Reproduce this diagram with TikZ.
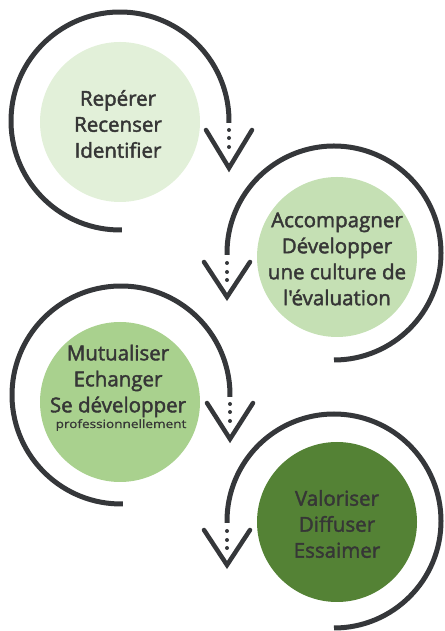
\documentclass[tikz,border=0pt]{standalone}
\usepackage{fontspec}
\setmainfont{Open Sans}[Ligatures=TeXOff, FakeBold=2]
\newfontfamily\smallfam{Open Sans}[Ligatures=TeXOff, FakeBold=0.8]
\usetikzlibrary{calc}
\definecolor{ringgray}{HTML}{35373A}
\definecolor{txtgray}{HTML}{363636}
\definecolor{gA}{HTML}{E2F0D9}
\definecolor{gB}{HTML}{C5E0B4}
\definecolor{gC}{HTML}{A9D18E}
\definecolor{gD}{HTML}{548235}
\tikzset{
  ring/.style={draw=ringgray, line width=5pt},
  chev/.style={draw=ringgray, line width=4.5pt, line cap=round, line join=miter},
  dotmark/.style={circle, fill=ringgray, inner sep=0pt, minimum size=4pt},
  bubble/.style={circle, inner sep=0pt, minimum size=160pt},
  txt/.style={align=center, text=txtgray, inner sep=0pt, font=\fontsize{20.5}{26}\selectfont},
  smalltxt/.style={text=txtgray, inner sep=0pt, font=\smallfam\fontsize{11.5}{13}\selectfont}
}
\begin{document}
\begin{tikzpicture}[x=1pt,y=1pt]
\useasboundingbox (0,0) rectangle (444,631);
% circles
\node[bubble, fill=gA] (b1) at (120,509) {};
\node[bubble, fill=gB] (b2) at (337,374) {};
\node[bubble, fill=gC] (b3) at (120,229) {};
\node[bubble, fill=gD] (b4) at (337,109) {};
% ring centres
\coordinate (r1) at (120,510);
\coordinate (r2) at (334,378);
\coordinate (r3) at (121,236);
\coordinate (r4) at (334,110);
% rings
\draw[ring] (r1) ++(271:109) arc[start angle=271, end angle=-1, radius=109];
\draw[ring] (r2) ++(270:107) arc[start angle=270, end angle=541, radius=107];
\draw[ring] (r3) ++(271:109) arc[start angle=271, end angle=-1, radius=109];
\draw[ring] (r4) ++(270:107) arc[start angle=270, end angle=541, radius=107];
% dots and chevrons ring 1
\foreach \d [count=\i] in {9,17,26}{\node[dotmark] (d1\i) at ($(r1)+(109,-\d)$) {};}
\coordinate (k1) at ($(r1)+(109,-47)$);
\draw[chev] ($(k1)+(-23,38)$) -- (k1) -- ($(k1)+(23,38)$);
% ring 2
\foreach \d [count=\i] in {10,19,27}{\node[dotmark] (d2\i) at ($(r2)+(-107,-\d)$) {};}
\coordinate (k2) at ($(r2)+(-107,-44)$);
\draw[chev] ($(k2)+(-23,35)$) -- (k2) -- ($(k2)+(23,35)$);
% ring 3
\foreach \d [count=\i] in {9,17,26}{\node[dotmark] (d3\i) at ($(r3)+(109,-\d)$) {};}
\coordinate (k3) at ($(r3)+(109,-44)$);
\draw[chev] ($(k3)+(-23,36)$) -- (k3) -- ($(k3)+(23,36)$);
% ring 4
\foreach \d [count=\i] in {10,19,27}{\node[dotmark] (d4\i) at ($(r4)+(-107,-\d)$) {};}
\coordinate (k4) at ($(r4)+(-107,-44)$);
\draw[chev] ($(k4)+(-23,35)$) -- (k4) -- ($(k4)+(23,35)$);
% texts
\node[txt] (t1) at (118,507) {Repérer\\Recenser\\Identifier};
\node[txt] (t2) at (337,372) {Accompagner\\Développer\\une culture de\\l'évaluation};
\node[txt] (t3) at (118,250) {Mutualiser\\Echanger\\Se développer};
\node[smalltxt, anchor=base] (t3b) at (121,203) {\scalebox{1.18}[1]{professionnellement}};
\node[txt] (t4) at (337,107) {Valoriser\\Diffuser\\Essaimer};
\end{tikzpicture}
\end{document}
